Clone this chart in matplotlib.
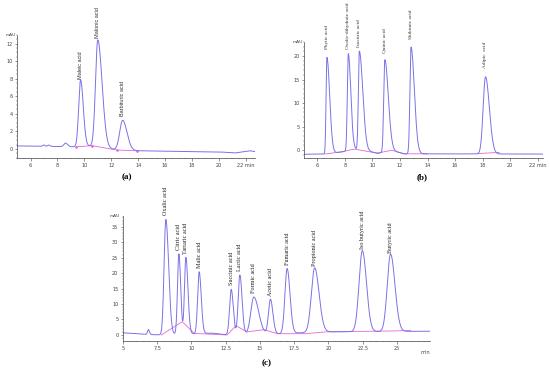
import numpy as np
import matplotlib
matplotlib.use("Agg")
from matplotlib import pyplot as plt
from matplotlib.ticker import MultipleLocator

BLUE = "#7a72e6"
PINK = "#e466d8"

# ---- panel (a) ----
a_names = ["Maleic acid", "Malonic acid", "Barbituric acid"]
a_rt = [9.72, 11.0, 12.85]
a_height = [7.6, 12.2, 3.4]
a_sig_left = [0.14, 0.17, 0.22]
a_sig_right = [0.2, 0.32, 0.32]
a_small_rt = [7.0, 7.35, 8.6]
a_small_height = [0.15, 0.15, 0.4]
a_base_t = [5.0, 9.4, 10.5, 12.4, 14.0, 20.0, 21.2, 22.3, 22.7]
a_base_y = [0.35, 0.25, 0.35, -0.1, -0.2, -0.33, -0.45, -0.2, -0.3]
a_pink_t = [9.4, 10.55, 12.45, 13.9]
a_pink_y = [0.25, 0.38, -0.12, -0.2]

# ---- panel (b) ----
b_names = ["Phytic acid", "Oxalic-dihydrate acid", "Isocitric acid",
           "Quinic acid", "Shikimic acid", "Adipic  acid"]
b_rt = [6.7, 8.25, 9.05, 10.9, 12.8, 18.2]
b_height = [20.5, 20.6, 21.0, 19.6, 22.7, 16.4]
b_sig_left = [0.06, 0.07, 0.07, 0.08, 0.08, 0.17]
b_sig_right = [0.2, 0.18, 0.25, 0.25, 0.24, 0.28]
b_base_t = [5.0, 6.5, 7.8, 8.7, 9.8, 10.4, 11.4, 12.3, 22.4]
b_base_y = [-0.9, -0.85, -0.4, 0.2, -0.3, -0.7, -0.1, -0.8, -0.85]
b_pink_t = [6.55, 7.8, 8.7, 10.35, 11.4, 12.3, 14.0, 17.6, 19.2]
b_pink_y = [-0.85, -0.35, 0.2, -0.65, -0.05, -0.8, -0.8, -0.75, -0.5]

# ---- panel (c) ----
c_names = ["Oxalic acid", "Citric acid", "Tartaric acid", "Malic acid",
           "Succinic acid", "Lactic acid", "Formic acid", "Acetic acid",
           "Fumaric acid", "Propionic acid", "Iso butyric acid", "Butyric acid"]
c_rt = [8.13, 9.08, 9.59, 10.56, 12.9, 13.53, 14.55, 15.76, 16.98,
        18.99, 22.47, 24.53]
c_height = [37.3, 26.0, 24.8, 20.0, 14.6, 19.2, 12.0, 11.2, 21.0,
            20.8, 26.2, 25.0]
c_sig_left = [0.13, 0.1, 0.1, 0.11, 0.12, 0.12, 0.22, 0.14, 0.16,
              0.24, 0.24, 0.24]
c_sig_right = [0.2, 0.13, 0.15, 0.15, 0.15, 0.16, 0.35, 0.18, 0.21,
               0.32, 0.3, 0.32]
c_small_rt = [6.85]
c_small_height = [1.6]
c_base_t = [5.0, 6.6, 7.8, 11.5, 12.4, 16.5, 19.5, 27.4]
c_base_y = [0.7, 0.2, 0.0, 0.6, 0.1, 0.4, 1.0, 1.2]
c_pink_t = [7.8, 9.33, 10.2, 12.6, 13.25, 14.05, 15.3, 16.3, 18.3, 19.8, 24.9, 26.0]
c_pink_y = [0.0, 4.3, 0.5, 0.0, 3.0, 1.0, 1.7, 0.4, 0.4, 1.0, 1.3, 1.5]


def trace(t, rts, hs, sl, sr, base_t, base_y):
    y = np.interp(t, base_t, base_y)
    for t0, h, s1, s2 in zip(rts, hs, sl, sr):
        s = np.where(t < t0, s1, s2)
        y = y + h * np.exp(-(t - t0) ** 2 / (2 * s ** 2))
    return y


def style_axis(ax, xlim, ylim, xmajor, ymajor, xminor, yminor):
    ax.set_xlim(*xlim)
    ax.set_ylim(*ylim)
    for side in ["top", "right"]:
        ax.spines[side].set_visible(False)
    for side in ["left", "bottom"]:
        ax.spines[side].set_linewidth(0.5)
        ax.spines[side].set_color("#444444")
    ax.xaxis.set_major_locator(MultipleLocator(xmajor))
    ax.yaxis.set_major_locator(MultipleLocator(ymajor))
    ax.xaxis.set_minor_locator(MultipleLocator(xminor))
    ax.yaxis.set_minor_locator(MultipleLocator(yminor))
    ax.tick_params(which="major", length=1.8, width=0.4, labelsize=3.6,
                   pad=1.5, colors="#444444")
    ax.tick_params(which="minor", length=1.0, width=0.3, colors="#444444")
    ax.patch.set_alpha(0)


fig = plt.figure(figsize=(5.5, 3.71), dpi=100)

# (a)
ax = fig.add_axes([0.031, 0.574, 0.433, 0.332])
t = np.linspace(5.0, 22.7, 3000)
y = trace(t, a_rt + a_small_rt, a_height + a_small_height,
          a_sig_left + [0.08, 0.08, 0.12], a_sig_right + [0.08, 0.1, 0.15],
          a_base_t, a_base_y)
ax.plot(a_pink_t, a_pink_y, color=PINK, lw=0.6)
ax.plot(a_pink_t, a_pink_y, "o", color=PINK, ms=0.9)
ax.plot(t, y, color=BLUE, lw=0.7)
style_axis(ax, (5.0, 22.7), (-1.03, 13.0), 2, 2, 0.5, 0.5)
ax.set_xticks([6, 8, 10, 12, 14, 16, 18, 20, 22])
ax.set_xticklabels(["6", "8", "10", "12", "14", "16", "18", "20", "22 min"])
for name, t0, h in zip(a_names, a_rt, a_height):
    ax.text(t0, h + 0.4, name, rotation=90, ha="center", va="bottom",
            fontsize=4.0, family="Liberation Sans", color="#333333")
ax.text(-0.005, 1.0, "mAU", transform=ax.transAxes, fontsize=3.2,
        ha="right", va="center", color="#444444")

# (b)
ax = fig.add_axes([0.553, 0.574, 0.435, 0.313])
t = np.linspace(5.05, 22.4, 3000)
y = trace(t, b_rt, b_height, b_sig_left, b_sig_right, b_base_t, b_base_y)
ax.plot(b_pink_t[:7], b_pink_y[:7], color=PINK, lw=0.6)
ax.plot(b_pink_t[7:], b_pink_y[7:], color=PINK, lw=0.6)
ax.plot(t, y, color=BLUE, lw=0.7)
style_axis(ax, (5.05, 22.4), (-1.7, 23.0), 2, 5, 0.5, 1)
ax.set_xticks([6, 8, 10, 12, 14, 16, 18, 20, 22])
ax.set_xticklabels(["6", "8", "10", "12", "14", "16", "18", "20", "22 min"])
for name, t0, h in zip(b_names, b_rt, b_height):
    ax.text(t0, h + 1.0, name, rotation=90, ha="center", va="bottom",
            fontsize=3.8, family="Liberation Serif", color="#333333")
ax.text(-0.005, 1.0, "mAU", transform=ax.transAxes, fontsize=3.2,
        ha="right", va="center", color="#444444")

# (c)
ax = fig.add_axes([0.2236, 0.081, 0.558, 0.337])
t = np.linspace(5.0, 27.4, 4000)
y = trace(t, c_rt + c_small_rt, c_height + c_small_height,
          c_sig_left + [0.06], c_sig_right + [0.08], c_base_t, c_base_y)
ax.plot(c_pink_t, c_pink_y, color=PINK, lw=0.6)
ax.plot(t, y, color=BLUE, lw=0.7)
style_axis(ax, (5.0, 27.4), (-1.94, 38.5), 2.5, 5, 0.5, 1)
ax.set_xticks([5, 7.5, 10, 12.5, 15, 17.5, 20, 22.5, 25])
ax.set_xticklabels(["5", "7.5", "10", "12.5", "15", "17.5", "20", "22.5", "25"])
for name, t0, h in zip(c_names, c_rt, c_height):
    ax.text(t0, h + 1.5, name, rotation=90, ha="center", va="bottom",
            fontsize=4.4, family="Liberation Serif", color="#222222")
ax.text(-0.01, 1.0, "mAU", transform=ax.transAxes, fontsize=3.2,
        ha="right", va="center", color="#444444")
ax.text(0.97, -0.075, "min", transform=ax.transAxes, fontsize=3.6,
        ha="left", va="top", color="#444444")

for label, x, yy in [("(a)", 127, 177), ("(b)", 422, 177), ("(c)", 267, 363)]:
    fig.text(x / 550, 1 - yy / 371, label, ha="center", va="center",
             fontsize=6.5, fontweight="bold", family="Liberation Serif")

fig.savefig("out.png", dpi=100, facecolor="white")
